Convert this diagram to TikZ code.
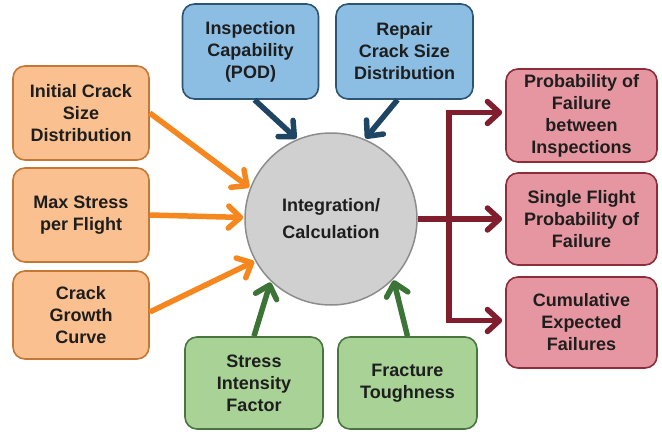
\documentclass[tikz,border=0pt]{standalone}
\usepackage{fontspec}
\setmainfont{Liberation Sans}
\usetikzlibrary{arrows.meta,calc}
\definecolor{ofill}{RGB}{250,192,143}
\definecolor{odraw}{RGB}{196,120,52}
\definecolor{oarr}{RGB}{245,135,30}
\definecolor{bfill}{RGB}{140,190,228}
\definecolor{bdraw}{RGB}{45,85,115}
\definecolor{barr}{RGB}{30,70,100}
\definecolor{rfill}{RGB}{230,150,160}
\definecolor{rdraw}{RGB}{140,45,58}
\definecolor{rarr}{RGB}{128,30,45}
\definecolor{gfill}{RGB}{168,210,150}
\definecolor{gdraw}{RGB}{72,118,62}
\definecolor{garr}{RGB}{60,115,55}
\definecolor{cfill}{RGB}{208,208,208}
\definecolor{cdraw}{RGB}{140,140,140}
\definecolor{txt}{RGB}{30,30,30}
\tikzset{
  box/.style={rectangle, rounded corners=12pt, line width=1.6pt, align=center,
    inner sep=0pt, text=txt, font=\fontsize{18}{22}\selectfont\bfseries},
  obox/.style={box, fill=ofill, draw=odraw, minimum width=136pt},
  bbox/.style={box, fill=bfill, draw=bdraw, minimum width=136pt, minimum height=95pt},
  rbox/.style={box, fill=rfill, draw=rdraw, minimum width=151pt},
  gbox/.style={box, fill=gfill, draw=gdraw, minimum width=138pt, minimum height=92pt},
  conn/.style={line width=5.5pt, -{Straight Barb[length=12pt,width=22pt,round]}, shorten >=1pt},
  oconn/.style={conn, draw=oarr},
  bconn/.style={conn, draw=barr},
  gconn/.style={conn, draw=garr},
  rconn/.style={conn, draw=rarr, shorten >=3pt},
}
\begin{document}
\begin{tikzpicture}[x=1pt,y=-1pt]
\useasboundingbox (0,0) rectangle (662,434);
% center circle
\node[circle, minimum size=172pt, inner sep=0pt, fill=cfill, draw=cdraw, line width=1.5pt,
  align=center, text=txt, font=\fontsize{18}{27}\selectfont\bfseries] (c) at (331,219) {Integration/\\Calculation};
% left orange
\node[obox, minimum height=94pt] (o1) at (81,113) {Initial Crack\\Size\\Distribution};
\node[obox, minimum height=94pt] (o2) at (81,215) {Max Stress\\per Flight};
\node[obox, minimum height=88pt] (o3) at (81,315) {Crack\\Growth\\Curve};
% top blue
\node[bbox] (b1) at (250.5,51.5) {Inspection\\Capability\\(POD)};
\node[bbox, minimum width=137pt] (b2) at (404.5,51.5) {Repair\\Crack Size\\Distribution};
% right red
\node[rbox, minimum height=93pt] (r1) at (581.5,115.5) {Probability of\\Failure\\between\\Inspections};
\node[rbox, minimum height=92pt] (r2) at (581.5,219) {Single Flight\\Probability of\\Failure};
\node[rbox, minimum height=91pt] (r3) at (581.5,322.5) {Cumulative\\Expected\\Failures};
% bottom green
\node[gbox] (g1) at (254,383) {Stress\\Intensity\\Factor};
\node[gbox, minimum width=139pt] (g2) at (407.5,383) {Fracture\\Toughness};
% orange arrows
\draw[oconn] (o1.east) -- (c.159);
\draw[oconn] (o2.east) -- (c.179);
\draw[oconn] ([yshift=3pt]o3.east) -- (c.209);
% blue arrows
\draw[bconn] ([xshift=4pt]b1.south) -- (c.113);
\draw[bconn] ([xshift=-7pt]b2.south) -- (c.67);
% green arrows
\draw[gconn] (g1.north) -- (c.226);
\draw[gconn] (g2.north) -- (c.316);
% red outputs
\coordinate (j) at (449,219);
\draw[rconn] (c.east) -- (r2.west);
\draw[rconn, line join=miter] (j) |- ([yshift=3pt]r1.west);
\draw[rconn, line join=miter] (j) |- ([yshift=2pt]r3.west);
\end{tikzpicture}
\end{document}
